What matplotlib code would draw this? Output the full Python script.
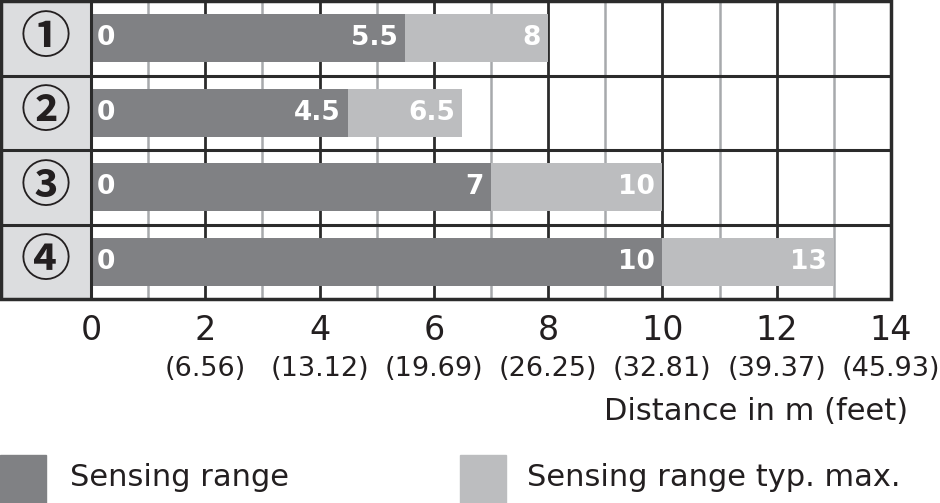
import matplotlib
matplotlib.use("Agg")
import matplotlib.pyplot as plt
from matplotlib.patches import Rectangle
from matplotlib.transforms import blended_transform_factory

# dados do gráfico
rows = ["①", "②", "③", "④"]
sensing = [5.5, 4.5, 7, 10]
typ_max = [8, 6.5, 10, 13]
ticks_m = [0, 2, 4, 6, 8, 10, 12, 14]
ticks_ft = ["", "(6.56)", "(13.12)", "(19.69)", "(26.25)", "(32.81)", "(39.37)", "(45.93)"]
legend_labels = ["Sensing range", "Sensing range typ. max."]

dark = "#808184"
light = "#bcbdbf"
line_dark = "#2b2b2b"
line_grey = "#a7a9ac"
txt = "#231f20"

plt.rcParams["font.family"] = ["DejaVu Sans"]

W, H = 940, 503
fig = plt.figure(figsize=(W / 100, H / 100), dpi=100)
ax = fig.add_axes([1 / W, 1 - 299 / H, 890 / W, 298 / H])

col_w = 90 / ((891 - 91) / 14)  # largura da coluna de rótulos em metros
ax.set_xlim(-col_w, 14)
ax.set_ylim(len(rows), 0)
ax.axis("off")

# coluna de rótulos
ax.axvspan(-col_w, 0, color="#dcdddf", zorder=0)

# grade vertical
for x in range(1, 15):
    c = line_dark if x % 2 == 0 else line_grey
    lw = 2.0 if x % 2 == 0 else 1.8
    ax.axvline(x, color=c, lw=lw, zorder=1)

# barras
for i, (s, m) in enumerate(zip(sensing, typ_max)):
    yc = i + 0.5
    ax.barh(yc, m - s, left=s, height=0.64, color=light, zorder=2)
    ax.barh(yc, s, left=0, height=0.64, color=dark, zorder=3)
    for val, xp, ha in [(0, 0.1, "left"), (s, s - 0.13, "right"), (m, m - 0.13, "right")]:
        ax.text(xp, yc, f"{val:g}", color="white", fontsize=19, fontweight="bold",
                ha=ha, va="center", zorder=4)
    ax.text(-col_w / 2, yc, rows[i], color=txt, fontsize=36, fontweight="bold",
            ha="center", va="center",
            family=["Noto Sans CJK JP", "DejaVu Sans"], zorder=4)

# linhas das linhas e bordas
for y in range(1, len(rows)):
    ax.axhline(y, color=line_dark, lw=2.2, zorder=5)
ax.axvline(0, color=line_dark, lw=2.2, zorder=5)
ax.add_patch(Rectangle((-col_w, 0), 14 + col_w, len(rows), fill=False,
                       ec=line_dark, lw=2.5, zorder=6, clip_on=False))

# rótulos do eixo x
tr = blended_transform_factory(ax.transData, fig.transFigure)
for m, ft in zip(ticks_m, ticks_ft):
    ax.text(m, 1 - 331 / H, str(m), transform=tr, ha="center", va="center",
            fontsize=24, color=txt)
    if ft:
        ax.text(m, 1 - 369 / H, ft, transform=tr, ha="center", va="center",
                fontsize=19.5, color=txt)
fig.text(908 / W, 1 - 411 / H, "Distance in m (feet)", ha="right", va="center",
         fontsize=22, color=txt)

# legenda
for x0, c, lab, tx in [(0, dark, legend_labels[0], 70), (460, light, legend_labels[1], 527)]:
    fig.patches.append(Rectangle((x0 / W, 0), 46 / W, 48 / H, transform=fig.transFigure,
                                 color=c, figure=fig))
    fig.text(tx / W, 1 - 477 / H, lab, ha="left", va="center", fontsize=22, color=txt)

fig.savefig("out.png", dpi=100)
